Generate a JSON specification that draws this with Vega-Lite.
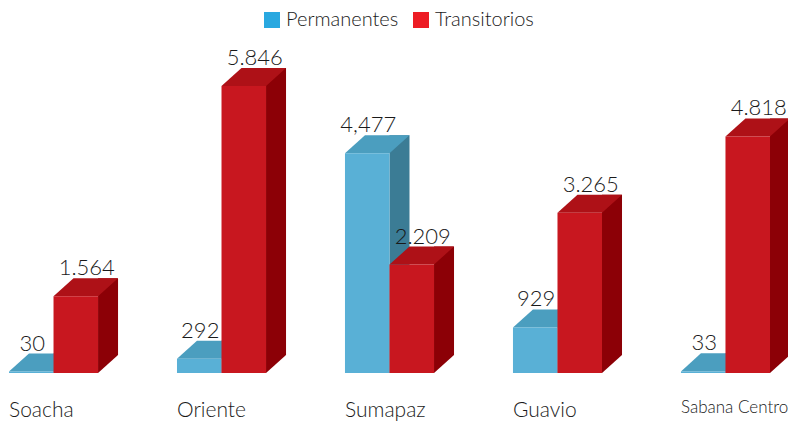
{
  "$schema": "https://vega.github.io/schema/vega-lite/v6.json",
  "width": 779,
  "height": 333,
  "autosize": {"type": "none"},
  "padding": {"left": 0, "top": 40, "right": 9, "bottom": 49},
  "background": "white",
  "config": {"view": {"stroke": null}, "font": "Lato"},
  "data": {
    "values": [
      {"region": "Soacha", "serie": "Permanentes", "value": 30, "label": "30"},
      {"region": "Soacha", "serie": "Transitorios", "value": 1564, "label": "1.564"},
      {"region": "Oriente", "serie": "Permanentes", "value": 292, "label": "292"},
      {"region": "Oriente", "serie": "Transitorios", "value": 5846, "label": "5.846"},
      {"region": "Sumapaz", "serie": "Permanentes", "value": 4477, "label": "4,477"},
      {"region": "Sumapaz", "serie": "Transitorios", "value": 2209, "label": "2.209"},
      {"region": "Guavio", "serie": "Permanentes", "value": 929, "label": "929"},
      {"region": "Guavio", "serie": "Transitorios", "value": 3265, "label": "3.265"},
      {"region": "Sabana Centro", "serie": "Permanentes", "value": 33, "label": "33"},
      {"region": "Sabana Centro", "serie": "Transitorios", "value": 4818, "label": "4.818"}
    ]
  },
  "encoding": {
    "x": {
      "field": "region", "type": "nominal", "sort": null,
      "scale": {"paddingInner": 0.47, "paddingOuter": 0.0536},
      "axis": {"title": null, "domain": false, "ticks": false, "labelAlign": "left", "labelOffset": -44.5, "labelAngle": 0, "labelFontSize": {"condition": {"test": "datum.value === 'Sabana Centro'", "value": 17}, "value": 21}, "labelFont": "Lato", "labelFontWeight": 300, "labelColor": "#1a1a1a", "labelPadding": 26, "labelLimit": 300, "labelOverlap": false, "labelBound": false}
    },
    "y": {"field": "value", "type": "quantitative", "stack": null, "scale": {"domain": [0, 6782], "nice": false}, "axis": null}
  },
  "layer": [
    {"transform": [{"filter": "datum.serie === 'Permanentes'"}], "mark": {"type": "bar", "width": 20, "xOffset": 10, "yOffset": -18, "color": "#3b7c95"}},
    {"transform": [{"filter": "datum.serie === 'Permanentes'"}], "mark": {"type": "point", "filled": true, "opacity": 1, "strokeWidth": 0, "size": 1982, "xOffset": -22.26, "color": "#4b9ebf", "shape": "M -1 0 L 1 0 L 1.898 -0.809 L -0.102 -0.809 Z"}},
    {"transform": [{"filter": "datum.serie === 'Permanentes'"}], "mark": {"type": "bar", "width": 44.52, "xOffset": -22.26, "color": "#59b0d6"}},
    {"transform": [{"filter": "datum.serie === 'Transitorios'"}], "mark": {"type": "bar", "width": 20, "xOffset": 54.52, "yOffset": -18, "color": "#8c0006"}},
    {"transform": [{"filter": "datum.serie === 'Transitorios'"}], "mark": {"type": "point", "filled": true, "opacity": 1, "strokeWidth": 0, "size": 1982, "xOffset": 22.26, "color": "white", "shape": "M 1 0 L 1.898 -0.809 L 2.2 -0.809 L 2.2 0.3 L 1 0.3 Z"}, "encoding": {"y": {"datum": 0, "type": "quantitative"}}},
    {"transform": [{"filter": "datum.serie === 'Transitorios'"}], "mark": {"type": "point", "filled": true, "opacity": 1, "strokeWidth": 0, "size": 1982, "xOffset": 22.26, "color": "#ae1117", "shape": "M -1 0 L 1 0 L 1.898 -0.809 L -0.102 -0.809 Z"}},
    {"transform": [{"filter": "datum.serie === 'Transitorios'"}], "mark": {"type": "bar", "width": 44.52, "xOffset": 22.26, "color": "#c8171f"}},
    {"transform": [{"filter": "datum.serie === 'Permanentes'"}], "mark": {"type": "text", "xOffset": -22.26, "dx": 1, "dy": -21, "baseline": "alphabetic", "fontSize": 22, "fontWeight": 300, "color": "#1a1a1a"}, "encoding": {"text": {"field": "label"}}},
    {"transform": [{"filter": "datum.serie === 'Transitorios'"}], "mark": {"type": "text", "xOffset": 22.26, "dx": 11, "dy": -21, "baseline": "alphabetic", "fontSize": 22, "fontWeight": 300, "color": "#1a1a1a"}, "encoding": {"text": {"field": "label"}}},
    {
      "mark": {"type": "point", "filled": true, "opacity": 0},
      "encoding": {
        "color": {
          "field": "serie", "type": "nominal",
          "scale": {"domain": ["Permanentes", "Transitorios"], "range": ["#29a8e0", "#ed1c24"]},
          "legend": {"title": null, "orient": "none", "direction": "horizontal", "legendX": 262, "legendY": -30, "symbolType": "square", "symbolSize": 256, "symbolOpacity": 1, "symbolStrokeWidth": 0, "labelFontSize": 20, "labelFont": "Lato", "labelFontWeight": 300, "labelColor": "#1a1a1a", "labelOffset": 4, "columnPadding": 12, "padding": 0}
        }
      }
    }
  ]
}
